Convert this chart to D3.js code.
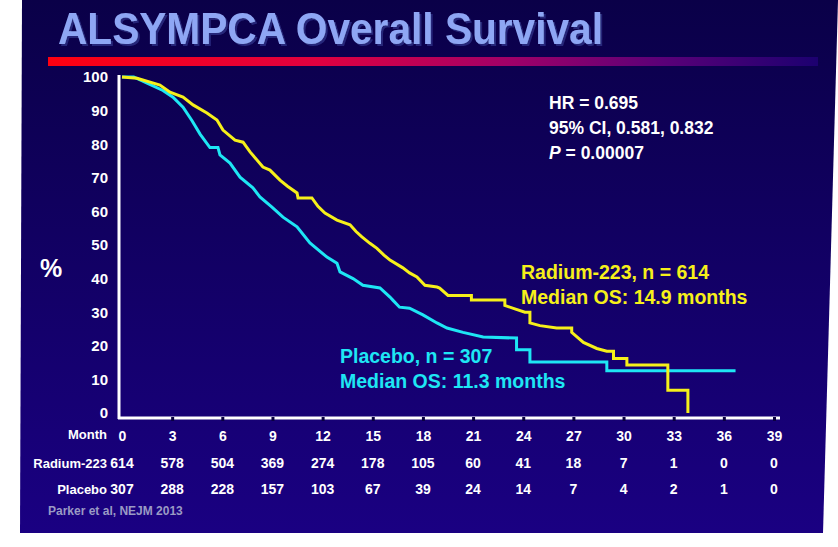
<!DOCTYPE html>
<html><head><meta charset="utf-8">
<script src="https://cdn.jsdelivr.net/npm/d3@7"></script>
<style>
html,body{margin:0;padding:0;background:#fff;}
svg{display:block;font-family:"Liberation Sans",Arial,sans-serif;font-weight:bold;}
</style></head><body>
<svg id="c" width="838" height="547"></svg>
<script>
// ---------- data ----------
const monthTicks = [0,3,6,9,12,15,18,21,24,27,30,33,36,39];
const radiumAtRisk = [614,578,504,369,274,178,105,60,41,18,7,1,0,0];
const placeboAtRisk = [307,288,228,157,103,67,39,24,14,7,4,2,1,0];
const yTicks = [0,10,20,30,40,50,60,70,80,90,100];

const radiumTime = [0,0.9,2.27,2.87,3.65,4.25,5.08,5.68,6.04,6.76,7.24,7.66,8.43,8.85,9.45,9.9,10.47,10.53,11.36,11.72,12.14,12.86,13.64,14.0,14.35,14.83,15.25,15.67,16.03,16.8,17.2,17.64,18.12,18.84,19.0,19.5,20.9,20.9,22.9,22.9,23.5,24.1,24.4,24.4,25.0,26.0,26.9,26.9,27.3,27.6,28.4,29.0,29.4,29.4,30.2,30.2,32.65,32.65,33.85,33.85];
const radiumSurv = [100,99.6,97.6,95.5,94,91.7,89.3,87.2,84.2,81.2,80.6,77.7,73.2,72.3,69.3,67.5,65.5,64,64,61.5,59.5,57.4,56,54,52.4,50.5,49,47,45.5,43.2,41.7,40.5,38,37.5,37.2,35,35,33.6,33.6,32,31,30,30,26.8,26,25.3,25.3,24,22.3,21,19.2,18.4,18.4,16.2,16.2,14.3,14.3,6.8,6.8,0];

const placeboTime = [0,0.7,1.5,2.45,3.05,3.65,4.19,4.67,5.26,5.74,5.86,6.46,7.06,7.83,8.25,8.97,9.63,10.47,11.24,12.26,12.86,13.04,13.82,14.41,15.43,16.03,16.2,16.6,17.2,18.0,18.84,19.44,20.4,21.6,23.6,23.6,24.4,24.4,29.0,29.0,36.7];
const placeboSurv = [100,100,98.2,96,94,91,87,83,79,79,76.8,74.4,70.2,67,64.3,61.3,58.3,55.4,50.6,46.4,44.6,42,40,38,37.2,34.5,33.6,31.5,31.2,29.2,26.8,25.3,24,22.6,22.3,18.8,18.8,15.2,15.2,12.6,12.6];

const titleText = "ALSYMPCA Overall Survival";
const statLines = ["HR = 0.695", "95% CI, 0.581, 0.832"];
const radiumLabel = ["Radium-223, n = 614", "Median OS: 14.9 months"];
const placeboLabel = ["Placebo, n = 307", "Median OS: 11.3 months"];

// ---------- drawing ----------
const svg = d3.select("#c");
const defs = svg.append("defs");

const bg = defs.append("linearGradient").attr("id","bg").attr("x1",0).attr("y1",0).attr("x2",0).attr("y2",1);
bg.append("stop").attr("offset","0%").attr("stop-color","#0a0048");
bg.append("stop").attr("offset","100%").attr("stop-color","#1a0082");

const bar = defs.append("linearGradient").attr("id","bar").attr("x1",0).attr("y1",0).attr("x2",1).attr("y2",0);
bar.append("stop").attr("offset","0%").attr("stop-color","#ff0010");
bar.append("stop").attr("offset","35%").attr("stop-color","#e00040");
bar.append("stop").attr("offset","60%").attr("stop-color","#a00068");
bar.append("stop").attr("offset","80%").attr("stop-color","#5a0078");
bar.append("stop").attr("offset","100%").attr("stop-color","#1c0070");

const sh = defs.append("filter").attr("id","shadow").attr("x","-5%").attr("y","-20%").attr("width","115%").attr("height","150%");
sh.append("feDropShadow").attr("dx",2).attr("dy",2).attr("stdDeviation",0.6).attr("flood-color","#26267a").attr("flood-opacity",1);

svg.append("polygon").attr("points","22,0 838,0 823,533 20,533").attr("fill","url(#bg)");

// title
svg.append("text").attr("x",58).attr("y",44).attr("font-size",44)
  .attr("textLength",545).attr("lengthAdjust","spacingAndGlyphs")
  .attr("fill","#8ea6f4").attr("filter","url(#shadow)").text(titleText);

svg.append("rect").attr("x",48).attr("y",57).attr("width",770).attr("height",9).attr("fill","url(#bar)");

const x = d3.scaleLinear().domain([0,39]).range([122,774]);
const y = d3.scaleLinear().domain([0,100]).range([413,77]);

// y axis labels
const yAxis = d3.axisLeft(y).tickValues(yTicks).tickSize(0).tickPadding(11);
const yg = svg.append("g").attr("transform","translate(119,0)").call(yAxis);
yg.select(".domain").remove();
yg.selectAll("text").attr("fill","#fff").attr("font-size",15).attr("font-family","Liberation Sans, Arial, sans-serif").attr("font-weight","bold");

// axis lines
svg.append("line").attr("x1",119).attr("x2",119).attr("y1",75).attr("y2",419).attr("stroke","#fff").attr("stroke-width",3);
svg.append("line").attr("x1",118).attr("x2",780).attr("y1",418).attr("y2",418).attr("stroke","#fff").attr("stroke-width",3);

// x axis
const xAxis = d3.axisBottom(x).tickValues(monthTicks).tickSize(4).tickPadding(10);
const xg = svg.append("g").attr("transform","translate(0,417)").call(xAxis);
xg.select(".domain").remove();
xg.selectAll(".tick line").attr("stroke","#0a0040").attr("stroke-width",3).attr("y1",0).attr("y2",4);
xg.selectAll(".tick line").filter(d=>d===0).remove();
xg.selectAll("text").attr("fill","#fff").attr("font-size",14).attr("font-family","Liberation Sans, Arial, sans-serif").attr("font-weight","bold");

// curves
const line = d3.line().x(d=>x(d[0])).y(d=>y(d[1])).curve(d3.curveLinear);
const placeboData = placeboTime.map((t,i)=>[t,placeboSurv[i]]);
const radiumData = radiumTime.map((t,i)=>[t,radiumSurv[i]]);
svg.append("path").attr("d",line(placeboData)).attr("fill","none").attr("stroke","#1ee6f4").attr("stroke-width",3).attr("stroke-linejoin","miter");
svg.append("path").attr("d",line(radiumData)).attr("fill","none").attr("stroke","#f6f01a").attr("stroke-width",3).attr("stroke-linejoin","miter");

// % label
svg.append("text").attr("x",40).attr("y",277).attr("font-size",25).attr("fill","#fff").text("%");

// stats
const st = svg.append("g").attr("fill","#fff").attr("font-size",17.5);
statLines.forEach((s,i)=>st.append("text").attr("x",549).attr("y",109+i*25).text(s));
const pt = st.append("text").attr("x",549).attr("y",159);
pt.append("tspan").attr("font-style","italic").text("P");
pt.append("tspan").text(" = 0.00007");

// legends
radiumLabel.forEach((s,i)=>svg.append("text").attr("x",521).attr("y",279+i*25).attr("font-size",19.5).attr("fill","#f6f01a").text(s));
placeboLabel.forEach((s,i)=>svg.append("text").attr("x",340).attr("y",363+i*25).attr("font-size",19.5).attr("fill","#1ee6f4").text(s));

// risk table
svg.append("text").attr("x",107).attr("y",439).attr("text-anchor","end").attr("font-size",13).attr("fill","#fff").text("Month");
svg.append("text").attr("x",107).attr("y",468).attr("text-anchor","end").attr("font-size",13).attr("fill","#fff").text("Radium-223");
svg.append("text").attr("x",107).attr("y",494).attr("text-anchor","end").attr("font-size",13).attr("fill","#fff").text("Placebo");
svg.append("g").selectAll("text").data(radiumAtRisk).join("text")
  .attr("x",(d,i)=>x(monthTicks[i])).attr("y",468).attr("text-anchor","middle").attr("font-size",14).attr("fill","#fff").text(d=>d);
svg.append("g").selectAll("text").data(placeboAtRisk).join("text")
  .attr("x",(d,i)=>x(monthTicks[i])).attr("y",494).attr("text-anchor","middle").attr("font-size",14).attr("fill","#fff").text(d=>d);

svg.append("text").attr("x",48).attr("y",515).attr("font-size",12).attr("fill","#9a9ac4").text("Parker et al, NEJM 2013");
</script>
</body></html>
